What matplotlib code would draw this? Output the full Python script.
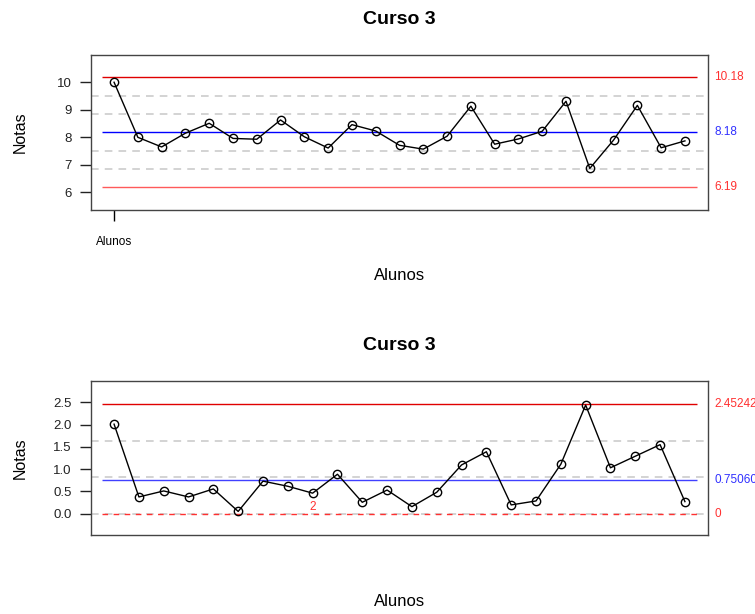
import numpy as np
import matplotlib
matplotlib.use("Agg")
import matplotlib.pyplot as plt

plt.rcParams['font.family'] = ['Liberation Sans', 'DejaVu Sans']

# Medias por aluno (Curso 3)
notas = [10.0, 8.0, 7.65, 8.15, 8.51, 7.96, 7.93, 8.63, 8.02, 7.61, 8.46, 8.23, 7.71,
         7.57, 8.04, 9.13, 7.75, 7.94, 8.22, 9.31, 6.87, 7.90, 9.16, 7.62, 7.87]
# Amplitudes moveis
amplitudes = [2.01, 0.375, 0.51, 0.375, 0.555, 0.05, 0.73, 0.615, 0.46, 0.885, 0.255, 0.53,
              0.157, 0.48, 1.094, 1.39, 0.196, 0.285, 1.11, 2.44, 1.03, 1.29, 1.55, 0.27]

lim_x = [10.18, 8.18, 6.19]          # LSC, LC, LIC
zonas_x = [9.51, 8.845, 7.515, 6.85]
lim_r = [2.45242, 0.75060, 0.0]
zonas_r = [1.635, 0.817, 0.0]
rotulos_x = ["10.18", "8.18", "6.19"]
rotulos_r = ["2.45242", "0.75060", "0"]

W, H = 755, 614
fig = plt.figure(figsize=(W / 100, H / 100), dpi=100)

def px_axes(l, t, r, b):
    return fig.add_axes([l / W, 1 - b / H, (r - l) / W, (b - t) / H])

ax1 = px_axes(91, 55, 708, 210)
ax2 = px_axes(91, 381, 708, 535)

cor_ucl = '#e00000'
cor_lcl = '#ff5a5a'
cor_txt = '#ff3030'
cinza = '#c8c8c8'

def estilo(ax):
    for s in ax.spines.values():
        s.set_color('#444444')
        s.set_linewidth(1.0)
    ax.tick_params(axis='y', length=8, width=1, labelsize=9.5, pad=6, colors='#222222')

# --- grafico das medias ---
x1 = np.arange(1, len(notas) + 1)
for z in zonas_x:
    ax1.axhline(z, color=cinza, lw=1.1, ls=(0, (5, 4)), zorder=1)
ax1.hlines(lim_x[0], 0.5, len(notas) + 0.5, color=cor_ucl, lw=1, zorder=2)
ax1.hlines(lim_x[1], 0.5, len(notas) + 0.5, color='#0000ff', lw=1, zorder=2)
ax1.hlines(lim_x[2], 0.5, len(notas) + 0.5, color=cor_lcl, lw=1, zorder=2)
ax1.plot(x1, notas, color='black', lw=1, marker='o', ms=6, mfc='none', mec='black', mew=1, zorder=3)
ax1.set_xlim(0.03, len(notas) + 0.97)
ax1.set_ylim(5.36, 10.99)
ax1.set_yticks([6, 7, 8, 9, 10])
ax1.set_xticks([1])
ax1.set_xticklabels(['Alunos'], fontsize=8.5)
ax1.tick_params(axis='x', length=8, width=1, pad=11)
estilo(ax1)
for v, t, c in zip(lim_x, rotulos_x, [cor_txt, '#3030ff', cor_txt]):
    ax1.text(1.01, v, t, transform=ax1.get_yaxis_transform(), color=c,
             fontsize=8.5, va='center', ha='left', clip_on=False)

# --- grafico das amplitudes ---
x2 = np.arange(1, len(amplitudes) + 1)
for z in zonas_r:
    ax2.axhline(z, color=cinza, lw=1.1, ls=(0, (5, 4)), zorder=1)
ax2.hlines(lim_r[0], 0.5, len(amplitudes) + 0.5, color=cor_ucl, lw=1, zorder=2)
ax2.hlines(lim_r[1], 0.5, len(amplitudes) + 0.5, color='#4040ff', lw=1, zorder=2)
ax2.hlines(lim_r[2], 0.5, len(amplitudes) + 0.5, color=cor_txt, lw=1, ls=(0, (4, 4)), zorder=2)
ax2.plot(x2, amplitudes, color='black', lw=1, marker='o', ms=6, mfc='none', mec='black', mew=1, zorder=3)
ax2.text(9, 0.14, '2', color=cor_txt, fontsize=8.5, ha='center', va='center')
ax2.set_xlim(0.07, len(amplitudes) + 0.93)
ax2.set_ylim(-0.48, 2.98)
ax2.set_yticks([0.0, 0.5, 1.0, 1.5, 2.0, 2.5])
ax2.set_yticklabels(['0.0', '0.5', '1.0', '1.5', '2.0', '2.5'])
ax2.set_xticks([])
estilo(ax2)
for v, t, c in zip(lim_r, rotulos_r, [cor_txt, '#3030ff', cor_txt]):
    ax2.text(1.01, v, t, transform=ax2.get_yaxis_transform(), color=c,
             fontsize=8.5, va='center', ha='left', clip_on=False)

# titulos e rotulos
for ytit, ylab, ynot in [(19, 276, 132), (345, 602, 458)]:
    fig.text(399.5 / W, 1 - ytit / H, 'Curso 3', fontsize=14, fontweight='bold',
             ha='center', va='center')
    fig.text(399.5 / W, 1 - ylab / H, 'Alunos', fontsize=12, ha='center', va='center')
    fig.text(20 / W, 1 - ynot / H, 'Notas', fontsize=11.5, rotation=90, ha='center', va='center')

fig.savefig('out.png', dpi=100)
